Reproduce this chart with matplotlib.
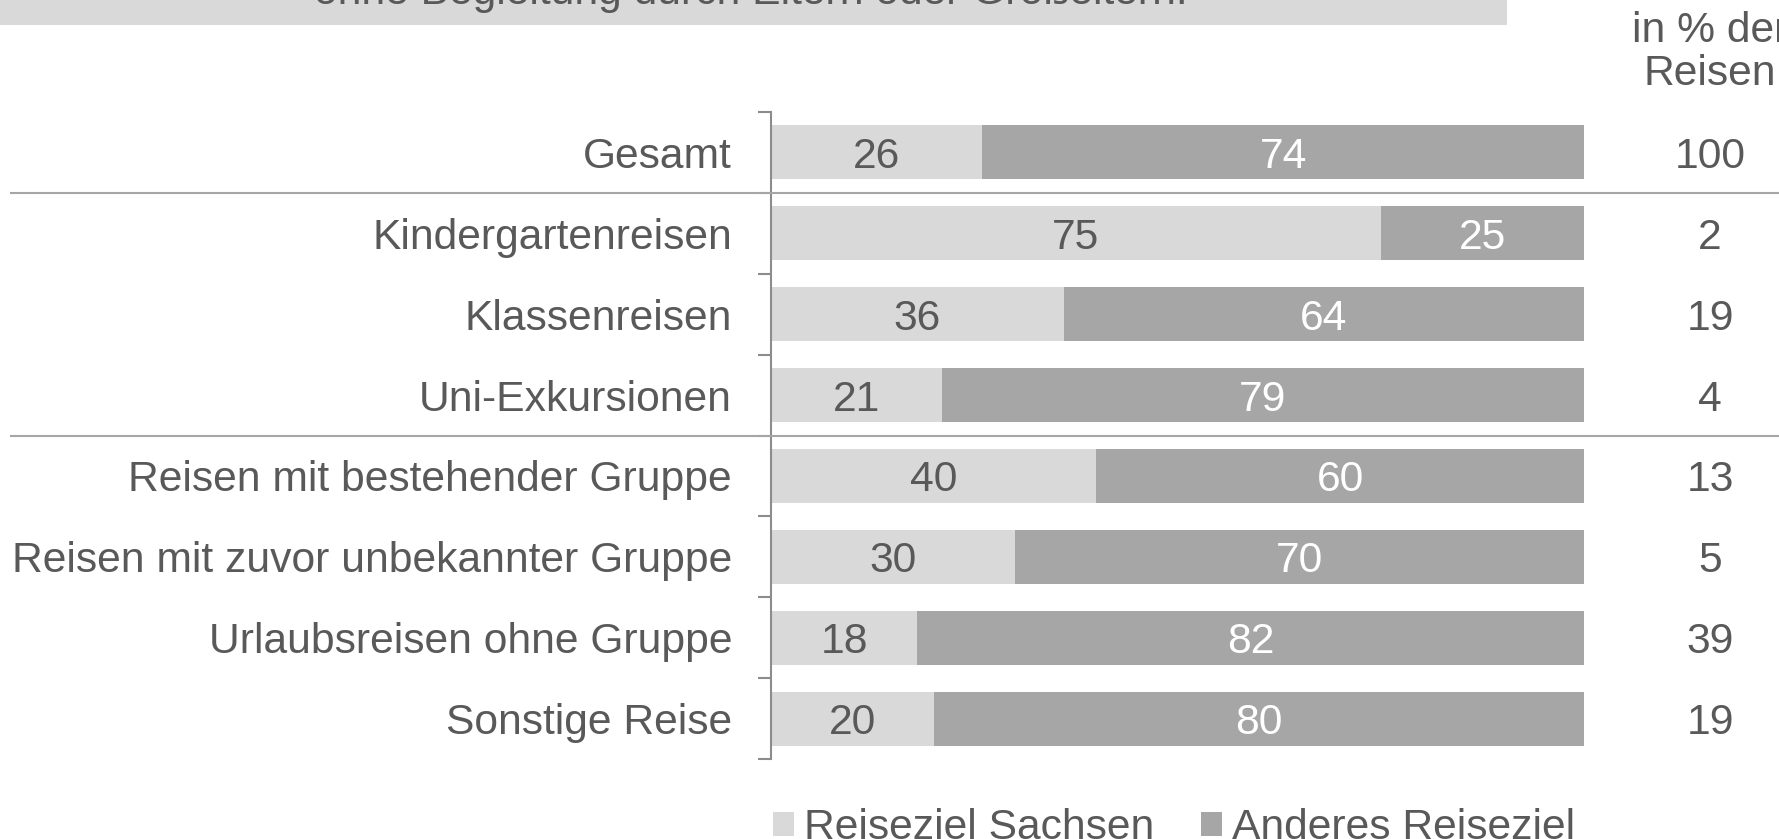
import numpy as np
import matplotlib
matplotlib.use('Agg')
import matplotlib.pyplot as plt
from matplotlib.patches import Rectangle
from matplotlib.lines import Line2D
from matplotlib.transforms import blended_transform_factory

plt.rcParams['font.family'] = ['Liberation Sans', 'DejaVu Sans']

# data
categories = ['Gesamt', 'Kindergartenreisen', 'Klassenreisen', 'Uni-Exkursionen',
              'Reisen mit bestehender Gruppe', 'Reisen mit zuvor unbekannter Gruppe',
              'Urlaubsreisen ohne Gruppe', 'Sonstige Reise']
sachsen = [26, 75, 36, 21, 40, 30, 18, 20]
anderes = [74, 25, 64, 79, 60, 70, 82, 80]
anteil = [100, 2, 19, 4, 13, 5, 39, 19]
series_names = ['Reiseziel Sachsen', 'Anderes Reiseziel']
title = 'ohne Begleitung durch Eltern oder Großeltern.'
header = ['in % der', 'Reisen']

W, H = 1779, 839
txt = '#595959'
light = '#d9d9d9'
dark = '#a6a6a6'
fs = 30.7

fig = plt.figure(figsize=(W/100, H/100), dpi=100)

# grey banner with (cut off) title
fig.add_artist(Rectangle((0, 1-25/H), 1507/W, 25/H, transform=fig.transFigure,
                         facecolor=light, edgecolor='none', zorder=0))
fig.text(751/W, 1-4/H, title, ha='center', va='baseline', fontsize=fs, color=txt, zorder=2)

ax = fig.add_axes([771/W, 1-759/H, 813/W, 647/H])
y = np.arange(len(categories))
b1 = ax.barh(y, sachsen, height=0.667, color=light, label=series_names[0])
b2 = ax.barh(y, anderes, left=sachsen, height=0.667, color=dark, label=series_names[1])

for i in range(len(categories)):
    ax.text(sachsen[i]/2, y[i], str(sachsen[i]), ha='center', va='center_baseline',
            fontsize=fs, color=txt)
    ax.text(sachsen[i] + anderes[i]/2, y[i], str(anderes[i]), ha='center', va='center_baseline',
            fontsize=fs, color='white')

ax.set_xlim(0, 100)
ax.set_ylim(len(categories)-0.5, -0.5)
for s in ['top', 'right', 'bottom']:
    ax.spines[s].set_visible(False)
ax.spines['left'].set_color('#8c8c8c')
ax.spines['left'].set_linewidth(1.5)
ax.set_xticks([])
ax.set_yticks(y)
ax.set_yticklabels(categories, fontsize=fs, color=txt)
ax.tick_params(axis='y', which='major', length=0, pad=28)
ax.set_yticks(np.arange(len(categories)+1) - 0.5, minor=True)
ax.tick_params(axis='y', which='minor', length=9.4, width=1.5, color='#8c8c8c', direction='out')

# separators across the whole figure
tr = blended_transform_factory(fig.transFigure, ax.transData)
for ys in [0.5, 3.5]:
    fig.add_artist(Line2D([11/W, 1], [ys, ys], transform=tr, color=dark, linewidth=1.5))

# share column
for i in range(len(categories)):
    fig.text(1710/W, y[i], str(anteil[i]), transform=tr, ha='center', va='center_baseline',
             fontsize=fs, color=txt)
fig.text(1710/W, 1-42/H, header[0], ha='center', va='baseline', fontsize=fs, color=txt)
fig.text(1710/W, 1-85/H, header[1], ha='center', va='baseline', fontsize=fs, color=txt)

fig.legend(handles=[b1, b2], labels=series_names, loc='lower center',
           bbox_to_anchor=(1174/W, -9/H), ncol=2, frameon=False, fontsize=fs,
           handlelength=0.5, handleheight=0.5, handletextpad=0.22, columnspacing=1.1,
           borderpad=0, borderaxespad=0, labelcolor=txt)

fig.savefig('out.png', dpi=100)
